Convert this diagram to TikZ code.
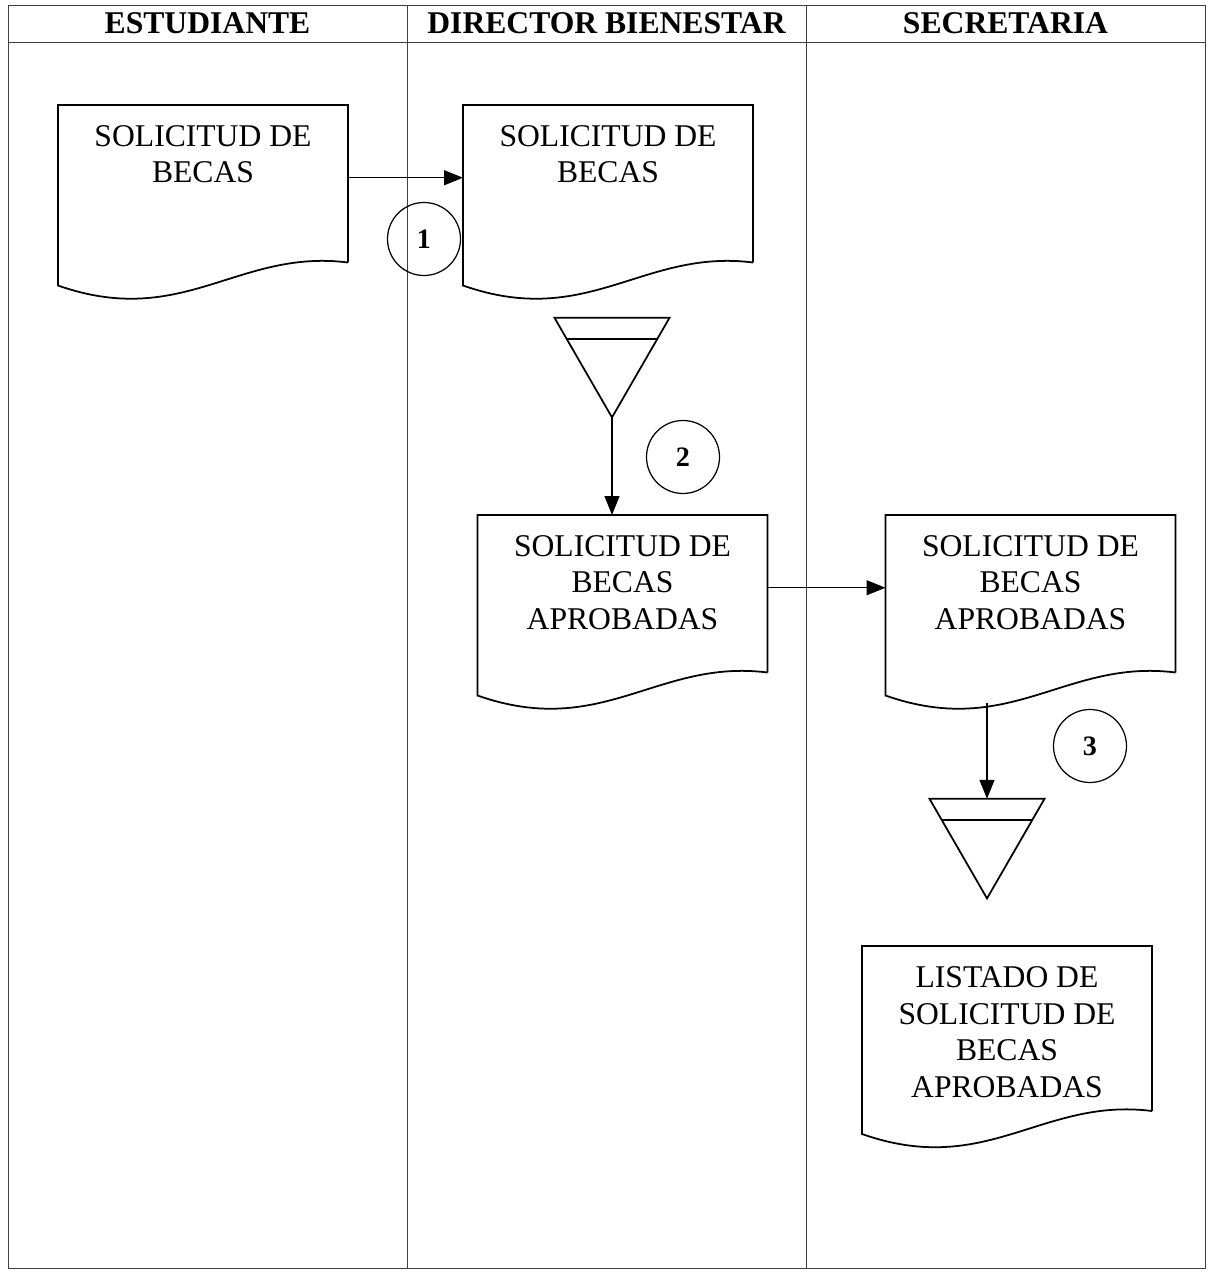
\documentclass[tikz,border=0pt]{standalone}
\usepackage{fontspec}
\setmainfont{Liberation Serif}
\usetikzlibrary{positioning,calc,shapes.geometric,arrows.meta}

\newcommand{\doctext}[2][3.15cm]{\parbox[c][#1][t]{5.8cm}{\centering\vspace*{0.41cm}#2}}
\newcommand{\docframe}[1]{\draw[docline] (#1.south east) -- (#1.north east) -- (#1.north west) -- ([yshift=-0.46cm]#1.south west) .. controls ([shift={(2.5,-1.34)}]#1.south west) and ([shift={(3.6,0.28)}]#1.south west) .. (#1.south east);}
\newcommand{\trishelf}[1]{\draw[docline] ($(#1.corner 2)!0.21!(#1.corner 1)$) -- ($(#1.corner 3)!0.21!(#1.corner 1)$);}

\begin{document}
\begin{tikzpicture}[
  lane/.style={black!75,line width=0.5pt},
  head/.style={font=\fontsize{18}{21}\selectfont\bfseries},
  doc/.style={inner sep=0pt,outer sep=0pt,anchor=north,font=\fontsize{18}{20.8}\selectfont},
  docline/.style={black,line width=1pt},
  store/.style={regular polygon,regular polygon sides=3,shape border rotate=180,draw,line width=1pt,inner sep=0pt,outer sep=0pt,minimum size=2.656cm},
  step num/.style={circle,draw,line width=0.7pt,minimum size=1.46cm,inner sep=0pt,font=\fontsize{16}{19}\selectfont\bfseries},
  arr/.style={-{Triangle[length=0.38cm,width=0.3cm]},line width=0.8pt}
]
\useasboundingbox (0,0) rectangle (24.14,-25.44);

% lanes
\draw[lane] (0.16,-0.1) rectangle (24.1,-25.36);
\draw[lane] (0.16,-0.84) -- (24.1,-0.84);
\draw[lane] (8.14,-0.1) -- (8.14,-25.36);
\draw[lane] (16.12,-0.1) -- (16.12,-25.36);

\node[head] (estudiante) at (4.15,-0.47) {ESTUDIANTE};
\node[head] (director) at (12.13,-0.47) {DIRECTOR BIENESTAR};
\node[head] (secretaria) at (20.11,-0.47) {SECRETARIA};

% documents
\node[doc] (sol1) at (4.06,-2.1) {\doctext{SOLICITUD DE\\BECAS}};
\node[doc] (sol2) at (12.16,-2.1) {\doctext{SOLICITUD DE\\BECAS}};
\node[doc] (apr1) at (12.45,-10.3) {\doctext{SOLICITUD DE\\BECAS\\APROBADAS}};
\node[doc] (apr2) at (20.61,-10.3) {\doctext{SOLICITUD DE\\BECAS\\APROBADAS}};
\node[doc] (listado) at (20.14,-18.92) {\doctext[3.3cm]{LISTADO DE\\SOLICITUD DE\\BECAS\\APROBADAS}};
\docframe{sol1}
\docframe{sol2}
\docframe{apr1}
\docframe{apr2}
\docframe{listado}

% archivos
\node[store] (arch1) at (12.24,-7.02) {};
\node[store] (arch2) at (19.74,-16.64) {};
\trishelf{arch1}
\trishelf{arch2}

% pasos
\node[step num] (p1) at (8.48,-4.78) {1};
\node[step num] (p2) at (13.66,-9.14) {2};
\node[step num] (p3) at (21.8,-14.92) {3};

\draw[arr] ([yshift=0.12cm]sol1.east) -- ([yshift=0.12cm]sol2.west);
\draw[arr] (arch1.south) -- (arch1.south |- apr1.north);
\draw[arr] ([yshift=0.12cm]apr1.east) -- ([yshift=0.12cm]apr2.west);
\draw[arr] ($(apr2.south -| arch2.north)+(0,-0.6)$) -- (arch2.north);
\end{tikzpicture}
\end{document}
